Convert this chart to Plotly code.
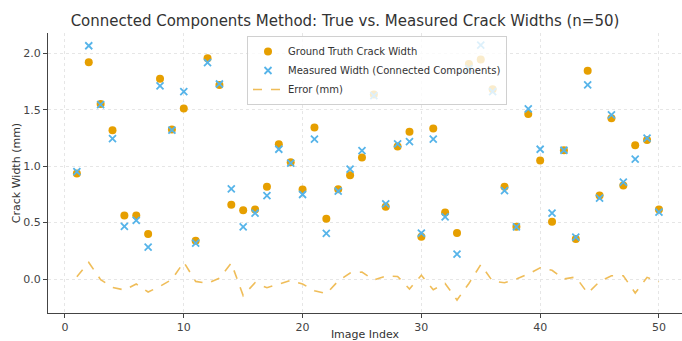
import plotly.graph_objects as go

image_index = list(range(1, 51))

ground_truth = [0.934, 1.920, 1.551, 1.318, 0.563, 0.563, 0.398, 1.775, 1.324, 1.510,
                0.339, 1.956, 1.720, 0.658, 0.610, 0.616, 0.817, 1.195, 1.035, 0.793,
                1.342, 0.534, 0.796, 0.920, 1.076, 1.634, 0.640, 1.174, 1.306, 0.374,
                1.333, 0.590, 0.407, 1.905, 1.946, 1.681, 0.817, 0.463, 1.463, 1.050,
                0.507, 1.141, 0.354, 1.846, 0.740, 1.425, 0.829, 1.186, 1.233, 0.616]

measured = [0.952, 2.067, 1.545, 1.244, 0.466, 0.519, 0.283, 1.711, 1.320, 1.660,
            0.318, 1.917, 1.728, 0.799, 0.463, 0.584, 0.740, 1.150, 1.027, 0.749,
            1.239, 0.404, 0.779, 0.973, 1.138, 1.625, 0.666, 1.197, 1.218, 0.407,
            1.239, 0.551, 0.221, 1.865, 2.073, 1.661, 0.784, 0.463, 1.507, 1.150,
            0.584, 1.141, 0.372, 1.720, 0.717, 1.454, 0.858, 1.062, 1.248, 0.593]

error_mm = [0.020, 0.147, -0.005, -0.074, -0.097, -0.044, -0.115, -0.064, -0.004, 0.150,
            -0.021, -0.039, 0.008, 0.141, -0.147, -0.032, -0.077, -0.045, -0.012, -0.044,
            -0.103, -0.130, -0.017, 0.053, 0.062, -0.009, 0.026, 0.023, -0.088, 0.033,
            -0.094, -0.039, -0.186, -0.040, 0.127, -0.020, -0.033, 0.000, 0.044, 0.100,
            0.077, 0.000, 0.018, -0.126, -0.023, 0.029, 0.029, -0.124, 0.015, -0.023]

x_ticks = [0, 10, 20, 30, 40, 50]
y_ticks = [0.0, 0.5, 1.0, 1.5, 2.0]
y_tick_labels = ["0.0", "0.5", "1.0", "1.5", "2.0"]

FONT = "DejaVu Sans, Liberation Sans, sans-serif"

fig = go.Figure()
fig.add_trace(go.Scatter(
    x=image_index, y=ground_truth, mode="markers",
    name="Ground Truth Crack Width",
    marker=dict(symbol="circle", size=8, color="#E69F00", line=dict(width=0)),
))
fig.add_trace(go.Scatter(
    x=image_index, y=measured, mode="markers",
    name="Measured Width (Connected Components)",
    marker=dict(symbol="x-thin", size=7, color="#56B4E9",
                line=dict(width=1.8, color="#56B4E9")),
))
fig.add_trace(go.Scatter(
    x=image_index, y=error_mm, mode="lines",
    name="Error (mm)",
    line=dict(color="rgba(236,178,60,0.85)", width=1.6, dash="dash"),
))

fig.update_layout(
    width=682, height=341,
    margin=dict(l=48, r=0, t=33, b=28, autoexpand=False),
    paper_bgcolor="white", plot_bgcolor="white",
    font=dict(family=FONT, size=11, color="#444"),
    title=dict(text="Connected Components Method: True vs. Measured Crack Widths (n=50)",
               x=(345 - 48) / 634, xanchor="center", xref="paper",
               y=1 - 21 / 341, yref="container", yanchor="middle",
               font=dict(size=15, color="#333", family=FONT)),
    showlegend=True,
    legend=dict(x=(247 - 48) / 634, y=(313.3 - 36) / 280.3, xanchor="left", yanchor="top",
                bgcolor="rgba(255,255,255,0.8)", bordercolor="#d0d0d0", borderwidth=1,
                font=dict(size=10, color="#333", family=FONT),
                tracegroupgap=0, itemwidth=30),
)
fig.update_xaxes(
    range=[-1.43, 51.94], tickvals=x_ticks, ticktext=[str(v) for v in x_ticks],
    showgrid=True, gridcolor="#e6e6e6", griddash="dot", gridwidth=1,
    showline=True, linecolor="#444", linewidth=1.2, mirror=False,
    ticks="outside", ticklen=4, tickcolor="#444", zeroline=False, automargin=False,
    title=dict(text="Image Index", standoff=4, font=dict(size=11, color="#333")),
    tickfont=dict(size=11, color="#444"),
)
fig.update_yaxes(
    range=[-0.301, 2.18], tickvals=y_ticks, ticktext=y_tick_labels,
    showgrid=True, gridcolor="#e6e6e6", griddash="dot", gridwidth=1,
    showline=True, linecolor="#444", linewidth=1.2, mirror=False,
    ticks="outside", ticklen=4, tickcolor="#444", zeroline=False, automargin=False,
    title=dict(text="Crack Width (mm)", standoff=0, font=dict(size=11, color="#333")),
    tickfont=dict(size=11, color="#444"),
)

fig.write_html("out.html", config={"displayModeBar": False},
               post_script="document.body.style.margin='0';document.body.style.padding='0';")
